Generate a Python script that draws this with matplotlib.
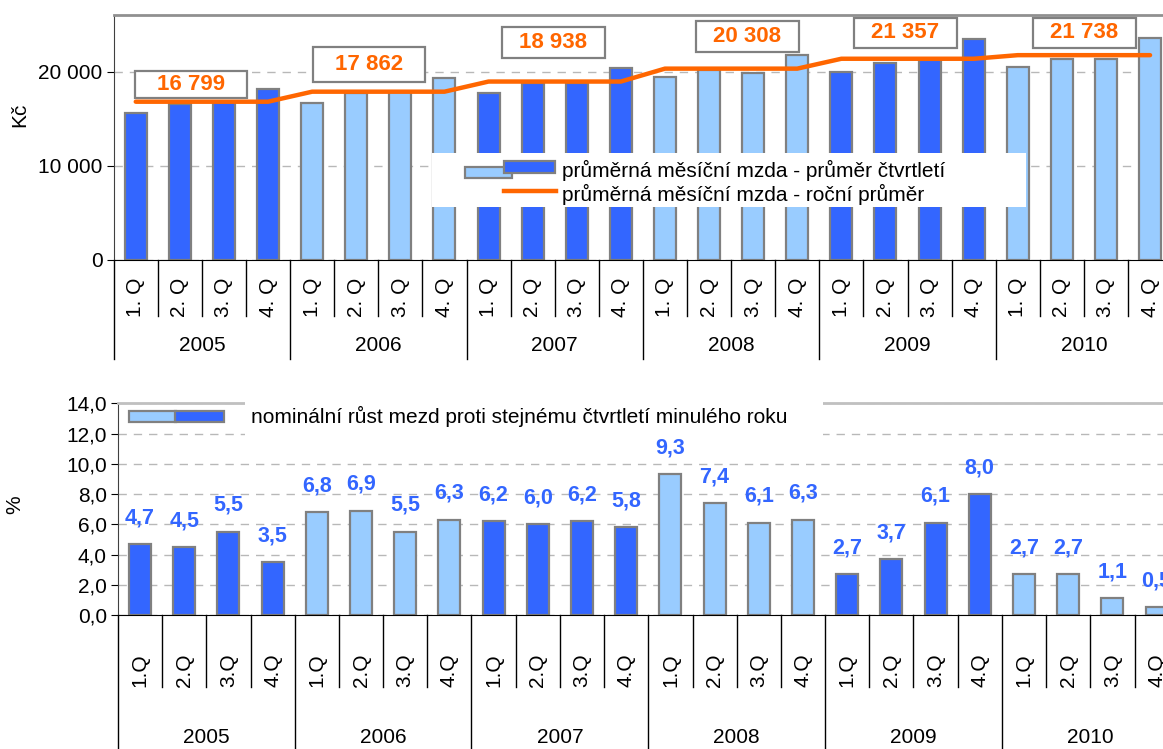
import matplotlib
matplotlib.use("Agg")
import matplotlib.pyplot as plt
from matplotlib.patches import Rectangle

plt.rcParams['font.family'] = ['Liberation Sans', 'DejaVu Sans']

# data
roky = ['2005', '2006', '2007', '2008', '2009', '2010']
ctvrtleti_top = ['1. Q', '2. Q', '3. Q', '4. Q']
ctvrtleti_bot = ['1.Q', '2.Q', '3.Q', '4.Q']
mzda_ctvrtleti = [15640, 16600, 16800, 18150,
                  16670, 17680, 17780, 19320,
                  17760, 18790, 18790, 20410,
                  19390, 20150, 19880, 21760,
                  19920, 20880, 21200, 23430,
                  20490, 21370, 21300, 23600]
mzda_rocni = [16799, 17862, 18938, 20308, 21357, 21738]
rust = [4.7, 4.5, 5.5, 3.5,
        6.8, 6.9, 5.5, 6.3,
        6.2, 6.0, 6.2, 5.8,
        9.3, 7.4, 6.1, 6.3,
        2.7, 3.7, 6.1, 8.0,
        2.7, 2.7, 1.1, 0.5]
popis_top = 'průměrná měsíční mzda - průměr čtvrtletí'
popis_line = 'průměrná měsíční mzda - roční průměr'
popis_bot = 'nominální růst mezd proti stejnému čtvrtletí minulého roku'

# layout of the annual value boxes: (x centre, y centre, width, height)
boxy = [(1.25, 18630, 2.54, 2870), (5.29, 20720, 2.54, 3700),
        (9.47, 23090, 2.34, 3290), (13.87, 23700, 2.34, 3320),
        (17.45, 24100, 2.34, 3250), (21.51, 24100, 2.34, 3250)]

TMAVA = '#3366FF'
SVETLA = '#99CCFF'
ORANZ = '#FF6600'
HRANA = '#808080'
FS = 15

n = len(mzda_ctvrtleti)
x = list(range(n))
barvy = [TMAVA if (i // 4) % 2 == 0 else SVETLA for i in x]
line_y = [mzda_rocni[i // 4] for i in x]

fig = plt.figure(figsize=(11.63, 7.49), dpi=100)
ax1 = fig.add_axes([113.7/1163, 1-260/749, 1058.4/1163, 245/749])
ax2 = fig.add_axes([117.9/1163, 1-615/749, 1060.8/1163, 211.7/749])


def kategorie(ax, quarters, q_y, q_end, y_y, y_end):
    tr = ax.get_xaxis_transform()
    for i in range(n + 1):
        b = i - 0.5
        kon = y_end if i % 4 == 0 else q_end
        ax.plot([b, b], [0, kon], color='black', lw=1, transform=tr, clip_on=False)
    for i in x:
        ax.text(i, q_y, quarters[i % 4], rotation=90, ha='center', va='center',
                fontsize=FS, transform=tr, clip_on=False)
    for j, r in enumerate(roky):
        ax.text(4*j + 1.5, y_y, r, ha='center', va='center', fontsize=FS,
                transform=tr, clip_on=False)


def osy(ax, top_color):
    ax.set_xlim(-0.5, n - 0.5)
    ax.set_xticks([])
    ax.spines['right'].set_visible(False)
    ax.spines['top'].set_color(top_color)
    ax.spines['top'].set_linewidth(2)
    ax.spines['left'].set_color('#404040')
    ax.spines['bottom'].set_color('black')
    ax.tick_params(axis='y', direction='out', length=5, labelsize=FS, pad=3)
    ax.set_axisbelow(True)
    ax.yaxis.grid(True, color='#b8b8b8', ls=(0, (6, 5)), lw=1)


# --- top chart ---
osy(ax1, '#909090')
ax1.set_ylim(0, 26000)
ax1.set_yticks([0, 10000, 20000])
ax1.set_yticklabels([f'{v:,}'.replace(',', ' ') for v in [0, 10000, 20000]])
ax1.bar(x, mzda_ctvrtleti, width=0.5, color=barvy, edgecolor=HRANA, linewidth=1.6, zorder=2)
ax1.plot(x, line_y, color=ORANZ, lw=3.2, zorder=3, solid_capstyle='round')
for (bx, by, bw, bh), v in zip(boxy, mzda_rocni):
    ax1.add_patch(Rectangle((bx - bw/2, by - bh/2), bw, bh, facecolor='white',
                            edgecolor=HRANA, lw=1.6, zorder=4))
    ax1.text(bx, by, f'{v:,}'.replace(',', ' '), ha='center', va='center',
             fontsize=16, fontweight='bold', color=ORANZ, zorder=5)

t = ax1.transAxes
ax1.add_patch(Rectangle((0.3008, 0.2163), 0.5612, 0.2204, transform=t,
                        facecolor='white', edgecolor='none', zorder=6))
ax1.add_patch(Rectangle((0.3319, 0.3347), 0.0445, 0.0449, transform=t,
                        facecolor=SVETLA, edgecolor=HRANA, lw=1.6, zorder=7))
ax1.add_patch(Rectangle((0.3687, 0.3551), 0.0482, 0.0490, transform=t,
                        facecolor=TMAVA, edgecolor=HRANA, lw=1.6, zorder=8))
ax1.plot([0.3687, 0.4179], [0.2829, 0.2829], transform=t, color=ORANZ, lw=3.2, zorder=8)
ax1.text(0.4236, 0.3673, popis_top, transform=t, fontsize=FS, va='center', zorder=9)
ax1.text(0.4236, 0.2694, popis_line, transform=t, fontsize=FS, va='center', zorder=9)
kategorie(ax1, ctvrtleti_top, -0.152, -0.2286, -0.347, -0.404)
fig.text(20/1163, 1-115/749, 'Kč', rotation=90, ha='center', va='center', fontsize=FS)

# --- bottom chart ---
osy(ax2, '#c0c0c0')
ax2.set_ylim(0, 14)
yt = [0, 2, 4, 6, 8, 10, 12, 14]
ax2.set_yticks(yt)
ax2.set_yticklabels([f'{v:.1f}'.replace('.', ',') for v in yt])
ax2.bar(x, rust, width=0.5, color=barvy, edgecolor=HRANA, linewidth=1.6, zorder=2)
for i, v in zip(x, rust):
    ax2.annotate(f'{v:.1f}'.replace('.', ','), (i, v), xytext=(0, 19),
                 textcoords='offset points', ha='center', va='center', zorder=10,
                 fontsize=15.5, fontweight='bold', color=TMAVA, annotation_clip=False)

t2 = ax2.transAxes
ax2.add_patch(Rectangle((0.1199, 0.835), 0.5447, 0.21, transform=t2, clip_on=False,
                        facecolor='white', edgecolor='none', zorder=6))
ax2.add_patch(Rectangle((0.0108, 0.913), 0.044, 0.052, transform=t2,
                        facecolor=SVETLA, edgecolor=HRANA, lw=1.6, zorder=7))
ax2.add_patch(Rectangle((0.0541, 0.913), 0.0459, 0.052, transform=t2,
                        facecolor=TMAVA, edgecolor=HRANA, lw=1.6, zorder=8))
ax2.text(0.1252, 0.940, popis_bot, transform=t2, fontsize=FS, va='center', zorder=9)
kategorie(ax2, ctvrtleti_bot, -0.26, -0.3387, -0.581, -0.7)
fig.text(15/1163, 1-505/749, '%', rotation=90, ha='center', va='center', fontsize=FS)

fig.savefig('out.png', dpi=100)
